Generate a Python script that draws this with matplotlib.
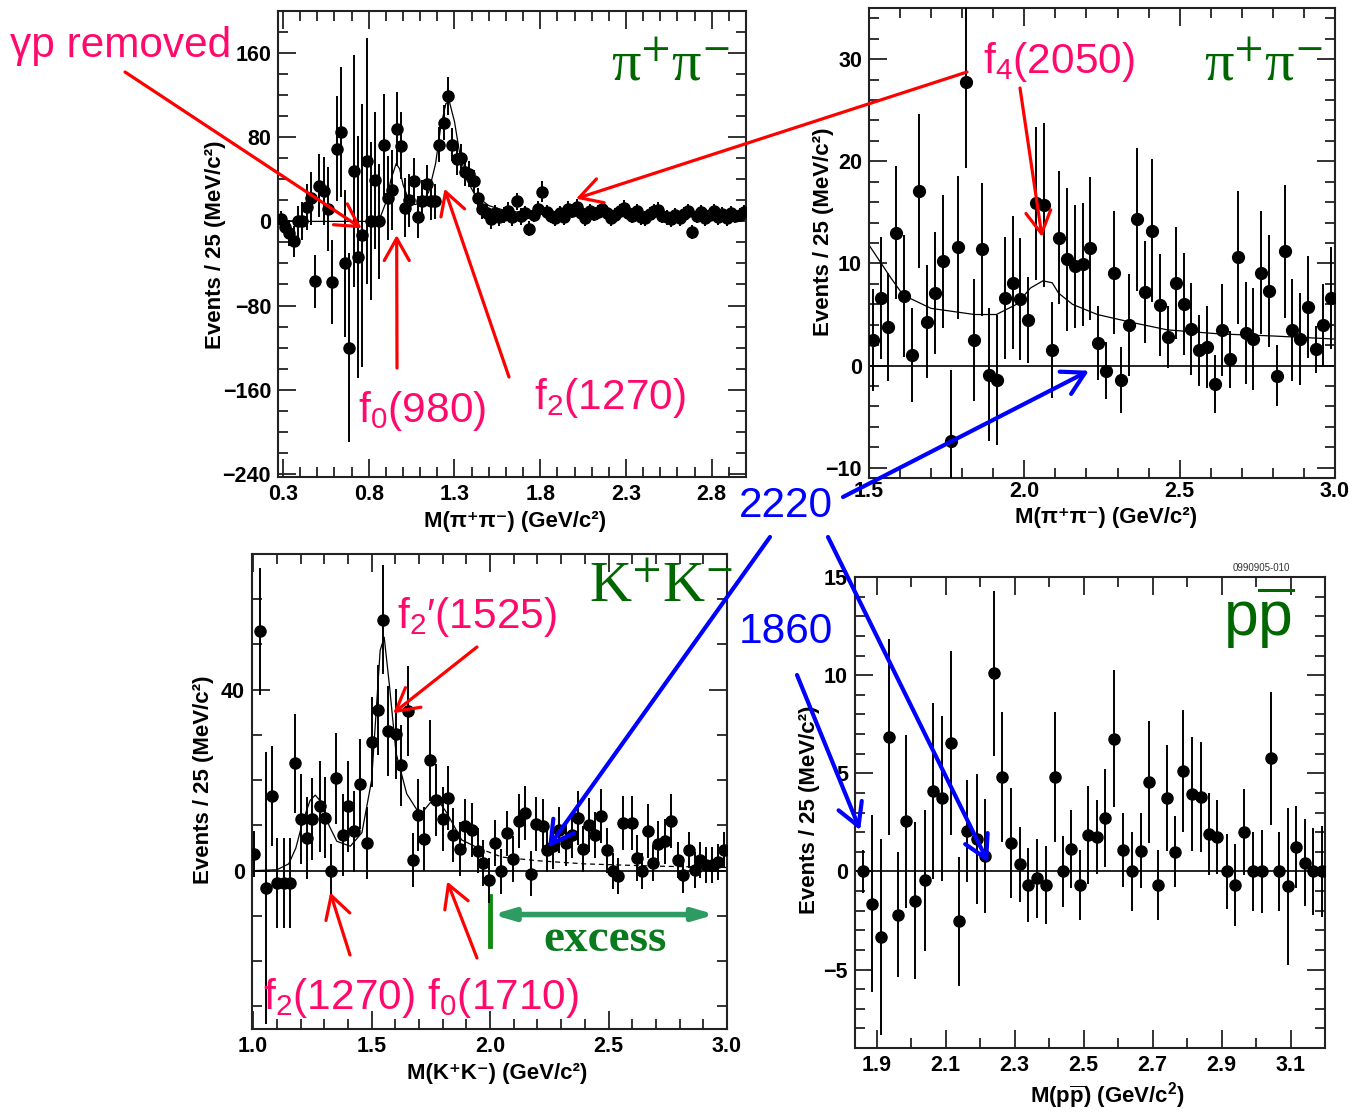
import numpy as np
import matplotlib
matplotlib.use("Agg")
import matplotlib.pyplot as plt
from matplotlib.text import Annotation
from matplotlib.ticker import MultipleLocator

plt.rcParams['font.family'] = ['Liberation Sans', 'DejaVu Sans']
plt.rcParams['mathtext.fontset'] = 'custom'
plt.rcParams['mathtext.rm'] = 'Liberation Sans'
plt.rcParams['mathtext.it'] = 'Liberation Sans:italic'
plt.rcParams['mathtext.bf'] = 'Liberation Sans:bold'

W, H = 1349, 1113

# ---------------- data: pi+pi- (low mass, top left) ----------------
p1_x = np.arange(0.2875, 3.0, 0.025)
p1_y = [2, -5, -11, -19, 0, 0, 14, 22, -57, 34,
        29, 12, -58, 69, 85, -40, -120, 48, -34, -13,
        57, 0, 39, 0, 73, 22, 30, 88, 72, 13,
        20, 38, 4, 19, 36, 19, 19, 73, 94, 119,
        73, 59, 60, 47, 45, 38, 22, 12, 8, 2,
        8, 4, 6, 10, 4, 19, 5, 8, -7, 6,
        12, 28, 9, 5, 3, 8, 4, 12, 10, 14,
        8, 3, 10, 7, 9, 12, 8, 3, 6, 10,
        13, 8, 5, 10, 4, 3, 7, 10, 11, 5,
        4, 2, 6, 3, 7, 10, -10, 5, 9, 3,
        6, 10, 4, 7, 3, 8, 5, 6, 9]
p1_err = [8, 10, 12, 15, 15, 18, 22, 25, 25, 30,
          32, 40, 40, 50, 62, 70, 90, 110, 115, 125,
          117, 75, 65, 55, 48, 40, 38, 35, 32, 28,
          25, 22, 20, 20, 18, 18, 17, 17, 17, 18,
          16, 15, 14, 13, 12, 11, 10, 10, 9, 9,
          8, 8, 8, 8, 8, 8, 8, 7, 7, 7,
          7, 10, 7, 7, 7, 7, 7, 7, 7, 7,
          7, 7, 7, 7, 7, 7, 7, 7, 7, 7,
          7, 7, 7, 7, 7, 7, 7, 7, 7, 7,
          7, 7, 7, 7, 7, 7, 7, 7, 7, 7,
          7, 7, 7, 7, 7, 7, 7, 7, 7]
p1_fit_x = [0.27, 0.84, 0.87, 0.90, 0.93, 0.96, 0.98, 1.00, 1.03, 1.07, 1.11,
            1.15, 1.19, 1.22, 1.25, 1.27, 1.30, 1.33, 1.37, 1.42, 1.50, 1.60,
            1.80, 2.20, 3.00]
p1_fit_y = [0, 0, 5, 18, 40, 55, 50, 35, 22, 16, 18,
            28, 55, 90, 112, 114, 95, 65, 40, 25, 15, 10,
            7, 5, 4]

# ---------------- data: pi+pi- (high mass, top right) ----------------
p2_x = np.arange(1.5125, 3.0, 0.025)
p2_y = [2.5, 6.6, 3.8, 13.0, 6.8, 1.0, 17.1, 4.3, 7.1, 10.2,
        -7.4, 11.6, 27.8, 2.5, 11.4, -0.9, -1.4, 6.6, 8.1, 6.5,
        4.5, 15.9, 15.7, 1.5, 12.5, 10.4, 9.7, 9.9, 11.5, 2.2,
        -0.5, 9.1, -1.4, 4.0, 14.3, 7.2, 13.2, 5.9, 2.8, 8.1,
        6.0, 3.6, 1.5, 1.8, -1.8, 3.5, 0.6, 10.6, 3.2, 2.6,
        9.1, 7.3, -1.0, 11.2, 3.5, 2.6, 5.7, 1.6, 4.0, 6.6]
p2_err = [5.0, 6.0, 5.3, 6.5, 6.0, 4.6, 7.5, 5.5, 6.0, 6.5,
          7.0, 7.0, 8.5, 6.0, 6.5, 6.5, 6.4, 6.0, 6.5, 6.0,
          4.2, 7.5, 8.0, 4.7, 6.5, 7.0, 6.0, 6.0, 7.0, 3.6,
          2.8, 6.0, 3.2, 5.0, 7.0, 5.0, 7.0, 5.0, 3.0, 5.5,
          5.0, 4.5, 3.5, 4.0, 2.8, 4.5, 2.8, 6.5, 5.0, 5.0,
          6.0, 5.5, 3.0, 6.5, 5.0, 4.5, 5.0, 2.3, 4.0, 5.0]
p2_fit_x = [1.50, 1.57, 1.61, 1.70, 1.84, 1.91, 1.975, 2.02, 2.06, 2.09,
            2.11, 2.155, 2.235, 2.35, 2.46, 2.63, 2.80, 3.00]
p2_fit_y = [11.8, 8.6, 6.9, 5.6, 5.0, 5.0, 6.0, 7.6, 8.3, 8.1,
            7.1, 6.0, 5.0, 4.2, 3.5, 3.1, 2.9, 2.6]

# ---------------- data: K+K- (bottom left) ----------------
p3_x = [1.004, 1.027, 1.055, 1.079, 1.100, 1.128, 1.156, 1.177, 1.201, 1.227,
        1.248, 1.280, 1.304, 1.329, 1.350, 1.378, 1.402, 1.426, 1.451, 1.480,
        1.501, 1.526, 1.550, 1.571, 1.603, 1.624, 1.653, 1.676, 1.697, 1.723,
        1.747, 1.772, 1.803, 1.821, 1.845, 1.873, 1.895, 1.923, 1.951, 1.972,
        1.997, 2.021, 2.045, 2.073, 2.096, 2.124, 2.148, 2.172, 2.194, 2.222,
        2.242, 2.267, 2.292, 2.321, 2.345, 2.370, 2.394, 2.419, 2.443, 2.467,
        2.492, 2.518, 2.541, 2.563, 2.598, 2.619, 2.640, 2.668, 2.689, 2.710,
        2.738, 2.764, 2.792, 2.816, 2.841, 2.865, 2.886, 2.911, 2.935, 2.961,
        2.987]
p3_y = [3.7, 52.9, -3.8, 16.5, -2.7, -2.7, -2.7, 23.7, 11.4, 7.2,
        11.4, 14.2, 11.7, 0.0, 20.4, 7.9, 14.2, 8.7, 19.2, 6.1,
        28.5, 35.5, 55.5, 30.9, 30.2, 23.3, 35.3, 2.3, 12.3, 7.0,
        24.4, 15.6, 11.4, 16.1, 7.9, 4.8, 9.9, 9.0, 4.4, 1.7,
        -2.1, 6.1, -0.1, 8.3, 2.6, 11.0, 12.7, -0.7, 10.3, 9.8,
        4.6, 5.4, 9.0, 6.1, 7.9, 11.7, 4.8, 10.1, 7.9, 12.1,
        4.5, -0.1, -1.1, 10.6, 10.5, 2.8, 0.0, 8.8, 1.7, 5.9,
        6.5, 11.0, 2.3, -0.9, 4.6, 0.1, 2.3, 1.3, 1.3, 2.0,
        4.6]
p3_err = [5, 14, 30, 11, 10, 10, 10, 11, 10, 9,
          9, 10, 9, 6, 10, 9, 10, 9, 10, 8,
          10, 10, 12, 10, 10, 9, 10, 6, 8, 7,
          9, 8, 7, 7, 6, 6, 6, 6, 5, 5,
          5, 5, 5, 5, 5, 6, 6, 5, 6, 6,
          5, 5, 5, 5, 5, 6, 5, 6, 5, 6,
          5, 4, 4, 6, 6, 5, 4, 6, 4, 5,
          5, 6, 4, 4, 4, 4, 4, 4, 4, 4,
          4]
p3_fit_x = [1.00, 1.10, 1.15, 1.18, 1.21, 1.24, 1.262, 1.29, 1.32, 1.353,
            1.41, 1.459, 1.50, 1.536, 1.553, 1.575, 1.603, 1.648, 1.705, 1.747,
            1.775, 1.817, 1.88, 1.95]
p3_fit_y = [0, 0.2, 1.5, 5, 11, 15.5, 16.7, 15, 10, 6.5,
            5.4, 8.4, 20, 48.7, 51.6, 41, 26, 17, 12.3, 15,
            16, 12.8, 6.8, 5]
p3_bg_x = [1.95, 2.05, 2.20, 2.40, 2.70, 3.00]
p3_bg_y = [5, 3.0, 2.2, 1.5, 1.0, 0.7]

# ---------------- data: p pbar (bottom right) ----------------
p4_x = [1.861, 1.885, 1.912, 1.936, 1.961, 1.986, 2.012, 2.039, 2.063, 2.088,
        2.115, 2.139, 2.163, 2.190, 2.215, 2.239, 2.264, 2.290, 2.315, 2.339,
        2.365, 2.391, 2.417, 2.441, 2.464, 2.490, 2.513, 2.539, 2.563, 2.587,
        2.614, 2.639, 2.665, 2.689, 2.716, 2.741, 2.765, 2.789, 2.813, 2.840,
        2.864, 2.888, 2.915, 2.939, 2.966, 2.990, 3.017, 3.042, 3.068, 3.092,
        3.117, 3.143, 3.165, 3.192]
p4_y = [0.0, -1.64, -3.33, 6.85, -2.2, 2.55, -1.49, -0.45, 4.1, 3.73,
        6.55, -2.55, 2.05, 1.64, 0.8, 10.1, 4.8, 1.45, 0.36, -0.7,
        -0.36, -0.7, 4.8, 0.0, 1.15, -0.7, 1.87, 1.76, 2.73, 6.76,
        1.09, 0.0, 1.05, 4.55, -0.7, 3.73, 1.0, 5.1, 3.96, 3.78,
        1.9, 1.76, 0.0, -0.7, 2.0, 0.0, 0.0, 5.76, 0.0, -0.76,
        1.24, 0.45, 0.0, 0.0]
p4_err = [1.1, 4.5, 5.0, 5.0, 3.2, 4.4, 4.0, 3.6, 4.5, 4.2,
          4.7, 3.3, 2.6, 3.3, 2.9, 4.2, 3.3, 2.8, 1.9, 1.9,
          2.0, 2.0, 3.3, 1.8, 2.0, 1.8, 2.5, 1.9, 2.5, 3.5,
          1.9, 2.0, 1.9, 3.1, 1.8, 2.7, 1.8, 3.1, 2.9, 2.8,
          2.1, 1.9, 1.9, 2.1, 2.2, 2.0, 2.1, 3.4, 2.0, 4.0,
          2.1, 2.2, 2.2, 2.3]

# ---------------- tick labels ----------------
p1_xticks = [0.3, 0.8, 1.3, 1.8, 2.3, 2.8]
p1_xlabels = ["0.3", "0.8", "1.3", "1.8", "2.3", "2.8"]
p1_yticks = [-240, -160, -80, 0, 80, 160]
p1_ylabels = ["\u2212240", "\u2212160", "\u221280", "0", "80", "160"]
p2_xticks = [1.5, 2.0, 2.5, 3.0]
p2_xlabels = ["1.5", "2.0", "2.5", "3.0"]
p2_yticks = [-10, 0, 10, 20, 30]
p2_ylabels = ["\u221210", "0", "10", "20", "30"]
p3_xticks = [1.0, 1.5, 2.0, 2.5, 3.0]
p3_xlabels = ["1.0", "1.5", "2.0", "2.5", "3.0"]
p3_yticks = [0, 40]
p3_ylabels = ["0", "40"]
p4_xticks = [1.9, 2.1, 2.3, 2.5, 2.7, 2.9, 3.1]
p4_xlabels = ["1.9", "2.1", "2.3", "2.5", "2.7", "2.9", "3.1"]
p4_yticks = [-5, 0, 5, 10, 15]
p4_ylabels = ["\u22125", "0", "5", "10", "15"]

PINK = '#FF0A6C'
RED = '#FF0000'
BLUE = '#0000FF'
DGREEN = '#006600'

fig = plt.figure(figsize=(W / 100, H / 100), dpi=100)
fig.patch.set_facecolor('white')


def px_axes(left, top, right, bottom):
    ax = fig.add_axes([left / W, 1 - bottom / H, (right - left) / W, (bottom - top) / H])
    ax.patch.set_visible(False)
    return ax


def style(ax, xt, xl, yt, yl, xminor, yminor, xpad=5):
    ax.set_xticks(xt, labels=xl, fontweight='bold', fontsize=15.5)
    ax.set_yticks(yt, labels=yl, fontweight='bold', fontsize=15.5)
    ax.xaxis.set_minor_locator(MultipleLocator(xminor))
    ax.yaxis.set_minor_locator(MultipleLocator(yminor))
    ax.tick_params(which='both', direction='in', top=True, right=True,
                   width=1.3, color='#222222', pad=5)
    ax.tick_params(axis='x', pad=xpad)
    ax.tick_params(which='major', length=13)
    ax.tick_params(which='minor', length=7)
    for s in ax.spines.values():
        s.set_linewidth(1.5)
        s.set_color('#222222')


def points(ax, x, y, e, ms):
    ax.errorbar(x, y, yerr=e, fmt='o', color='black', ms=ms,
                elinewidth=1.4, capsize=0, zorder=3)


def ftext(x, y, s, **kw):
    fig.text(x / W, 1 - y / H, s, **kw)


def arrow(ax, tip, start, color, lw):
    a = Annotation('', xy=tip, xycoords=ax.transData,
                   xytext=(start[0], H - start[1]), textcoords='figure pixels',
                   arrowprops=dict(arrowstyle='->,head_length=0.8,head_width=0.45',
                                   color=color, lw=lw, shrinkA=0, shrinkB=0,
                                   mutation_scale=20))
    a.set_zorder(10)
    fig.add_artist(a)


# panel 1
ax1 = px_axes(278, 11, 746, 477)
ax1.set_xlim(0.271, 3.0)
ax1.set_ylim(-243, 200)
points(ax1, p1_x, p1_y, p1_err, 8)
ax1.plot(p1_fit_x, p1_fit_y, color='black', lw=0.9, zorder=2)
style(ax1, p1_xticks, p1_xlabels, p1_yticks, p1_ylabels, 0.1, 20)

# panel 2
ax2 = px_axes(869, 8, 1335, 478)
ax2.set_xlim(1.5, 3.0)
ax2.set_ylim(-11, 35)
ax2.axhline(0, color='black', lw=1.2)
points(ax2, p2_x, p2_y, p2_err, 8.5)
ax2.plot(p2_fit_x, p2_fit_y, color='black', lw=0.9, zorder=2)
style(ax2, p2_xticks, p2_xlabels, p2_yticks, p2_ylabels, 0.1, 2, xpad=2)

# panel 3
ax3 = px_axes(252, 554, 727, 1029)
ax3.set_xlim(0.995, 3.0)
ax3.set_ylim(-35, 70)
ax3.axhline(0, color='black', lw=1.2)
points(ax3, p3_x, p3_y, p3_err, 8)
ax3.plot(p3_fit_x, p3_fit_y, color='black', lw=0.9, zorder=2)
ax3.plot(p3_bg_x, p3_bg_y, color='black', lw=0.9, ls=(0, (4, 3)), zorder=2)
style(ax3, p3_xticks, p3_xlabels, p3_yticks, p3_ylabels, 0.1, 10)

# panel 4
ax4 = px_axes(855, 577, 1325, 1048)
ax4.set_xlim(1.837, 3.2)
ax4.set_ylim(-9, 15)
ax4.axhline(0, color='black', lw=1.2)
points(ax4, p4_x, p4_y, p4_err, 8)
style(ax4, p4_xticks, p4_xlabels, p4_yticks, p4_ylabels, 0.1, 1)

# axis titles
lab = dict(fontsize=16, fontweight='bold', ha='center', va='center')
ftext(515, 521, "M(\u03c0\u207a\u03c0\u207b) (GeV/c\u00b2)", **lab)
ftext(1106, 517, "M(\u03c0\u207a\u03c0\u207b) (GeV/c\u00b2)", **lab)
ftext(497, 1074, "M(K\u207aK\u207b) (GeV/c\u00b2)", **lab)
ftext(1107, 1096, r"M(p$\mathbf{\overline{p}}$) (GeV/c$\mathbf{^{2}}$)", **lab)
ylab = dict(fontsize=16, fontweight='bold', ha='center', va='center', rotation=90)
ftext(215, 245, "Events / 25 (MeV/c\u00b2)", **ylab)
ftext(823, 232, "Events / 25 (MeV/c\u00b2)", **ylab)
ftext(204, 780, "Events / 25 (MeV/c\u00b2)", **ylab)
ftext(810, 810, "Events / 25 (MeV/c\u00b2)", **ylab)

# annotations
big = dict(fontsize=30.5, ha='left', va='center')
ftext(10, 46, "\u03b3p removed", color=PINK, **big)
ftext(358, 411, "f$_0$(980)", color=PINK, **big)
ftext(534, 398, "f$_2$(1270)", color=PINK, **big)
ftext(983, 62, "f$_4$(2050)", color=PINK, **big)
ftext(397, 617, "f$_2$\u2032(1525)", color=PINK, **big)
ftext(263, 998, "f$_2$(1270) f$_0$(1710)", color=PINK, **big)
ftext(739, 506, "2220", color=BLUE, **big)
ftext(739, 632, "1860", color=BLUE, **big)

green = dict(fontsize=42, ha='left', va='center', color=DGREEN,
             family=['Liberation Serif', 'DejaVu Serif'], math_fontfamily='stix')
ftext(611, 66, "\u03c0$^{+}$\u03c0$^{-}$", **green)
ftext(1204, 66, "\u03c0$^{+}$\u03c0$^{-}$", **green)
ftext(589, 588, "K$^{+}$K$^{-}$", **green)
ftext(1223, 618, r"$\mathrm{p}\overline{\mathrm{p}}$", fontsize=45, ha='left',
      va='center', color=DGREEN)
ftext(605, 940, "excess", fontsize=34, fontweight='bold', ha='center', va='center',
      color='#0A7A1E', family=['Liberation Serif', 'DejaVu Serif'])
ftext(1233, 568, "0990905-010", fontsize=7, ha='left', va='center', color='#333333')

# red arrows
arrow(ax1, (0.759, -6.6), (125, 72), RED, 2.3)
arrow(ax1, (0.963, -13), (397, 368), RED, 2.3)
arrow(ax1, (1.242, 31), (509, 377), RED, 2.3)
arrow(ax1, (2.009, 21.6), (967, 72), RED, 2.3)
arrow(ax2, (2.057, 12.6), (1020, 88), RED, 2.3)
arrow(ax3, (1.591, 34.8), (477, 647), RED, 2.3)
arrow(ax3, (1.325, -4.8), (350, 955), RED, 2.3)
arrow(ax3, (1.819, -2.4), (477, 958), RED, 2.3)

# blue arrows
arrow(ax2, (2.208, -0.5), (843, 497), BLUE, 3)
arrow(ax3, (2.245, 5.1), (770, 537), BLUE, 3)
arrow(ax4, (2.223, 0.46), (828, 537), BLUE, 3)
arrow(ax4, (1.852, 2.1), (797, 675), BLUE, 3)

# excess range marker
ax3.plot([2.0, 2.0], [-5.7, -16.7], color='#128A12', lw=3.5, clip_on=False)
ax3.annotate('', xy=(2.95, -9.7), xytext=(2.01, -9.7), xycoords='data',
             arrowprops=dict(arrowstyle='<|-|>,head_length=1.2,head_width=0.35',
                             color='#2E9B63', lw=4, shrinkA=0, shrinkB=0))

fig.savefig('out.png', dpi=100, facecolor='white')
